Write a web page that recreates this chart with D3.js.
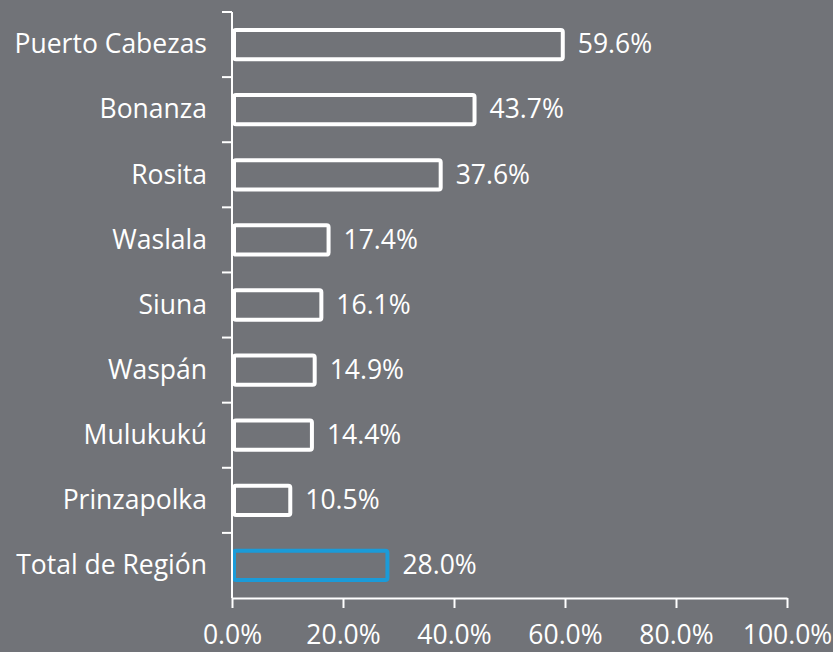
<!DOCTYPE html>
<html><head><meta charset="utf-8">
<script src="https://cdn.jsdelivr.net/npm/d3@7"></script>
<style>
html,body{margin:0;padding:0;background:#717378;}
svg{display:block;font-family:"Open Sans",sans-serif;}
</style></head>
<body>
<script>
const categories = ["Puerto Cabezas","Bonanza","Rosita","Waslala","Siuna","Waspán","Mulukukú","Prinzapolka","Total de Región"];
const values = [59.6,43.7,37.6,17.4,16.1,14.9,14.4,10.5,28.0];
const highlight = [false,false,false,false,false,false,false,false,true];
const xTicks = [0,20,40,60,80,100];

const W=833,H=652;
const m={left:232,right:46,top:12,bottom:54};
const FS=26.5;
const svg=d3.select("body").append("svg").attr("width",W).attr("height",H);
svg.append("rect").attr("width",W).attr("height",H).attr("fill","#717378");

const x=d3.scaleLinear().domain([0,100]).range([m.left,W-m.right]);
const y=d3.scaleBand().domain(categories).range([m.top,H-m.bottom]).paddingInner(0.55).paddingOuter(0.275);

const white="#ffffff", blue="#1b9bd8";

// bars
svg.selectAll("rect.bar").data(categories).join("rect").attr("class","bar")
  .attr("x",x(0)+2).attr("y",d=>y(d))
  .attr("width",(d,i)=>x(values[i])-x(0)-2).attr("height",y.bandwidth())
  .attr("rx",2)
  .attr("fill","none").attr("stroke",(d,i)=>highlight[i]?blue:white).attr("stroke-width",4);

// value labels
svg.selectAll("text.val").data(categories).join("text").attr("class","val")
  .attr("x",(d,i)=>x(values[i])+15).attr("y",d=>y(d)+y.bandwidth()/2)
  .attr("dy","0.33em").attr("fill",white).attr("font-size",FS)
  .text((d,i)=>values[i].toFixed(1)+"%");

// y axis
const bandStep=(H-m.bottom-m.top)/categories.length;
const yTickPos=d3.range(categories.length).map(i=>m.top+i*bandStep);
const ya=svg.append("g");
ya.append("line").attr("x1",x(0)).attr("x2",x(0)).attr("y1",m.top).attr("y2",H-m.bottom).attr("stroke",white).attr("stroke-width",2);
ya.selectAll("line.t").data(yTickPos).join("line").attr("class","t")
  .attr("x1",x(0)-10).attr("x2",x(0)).attr("y1",d=>d).attr("y2",d=>d).attr("stroke",white).attr("stroke-width",2);
ya.selectAll("text").data(categories).join("text")
  .attr("x",m.left-25).attr("y",d=>y(d)+y.bandwidth()/2).attr("dy","0.33em")
  .attr("text-anchor","end").attr("fill",white).attr("font-size",FS).text(d=>d);

// x axis
const xa=svg.append("g").attr("transform",`translate(0,${H-m.bottom})`)
  .call(d3.axisBottom(x).tickValues(xTicks).tickSize(10).tickSizeOuter(0).tickPadding(17).tickFormat(d=>d.toFixed(1)+"%"));
xa.select(".domain").attr("stroke",white).attr("stroke-width",2);
xa.selectAll(".tick line").attr("stroke",white).attr("stroke-width",2);
xa.selectAll(".tick text").attr("fill",white).attr("font-size",FS).attr("font-family","Open Sans, sans-serif");
</script>
</body></html>
